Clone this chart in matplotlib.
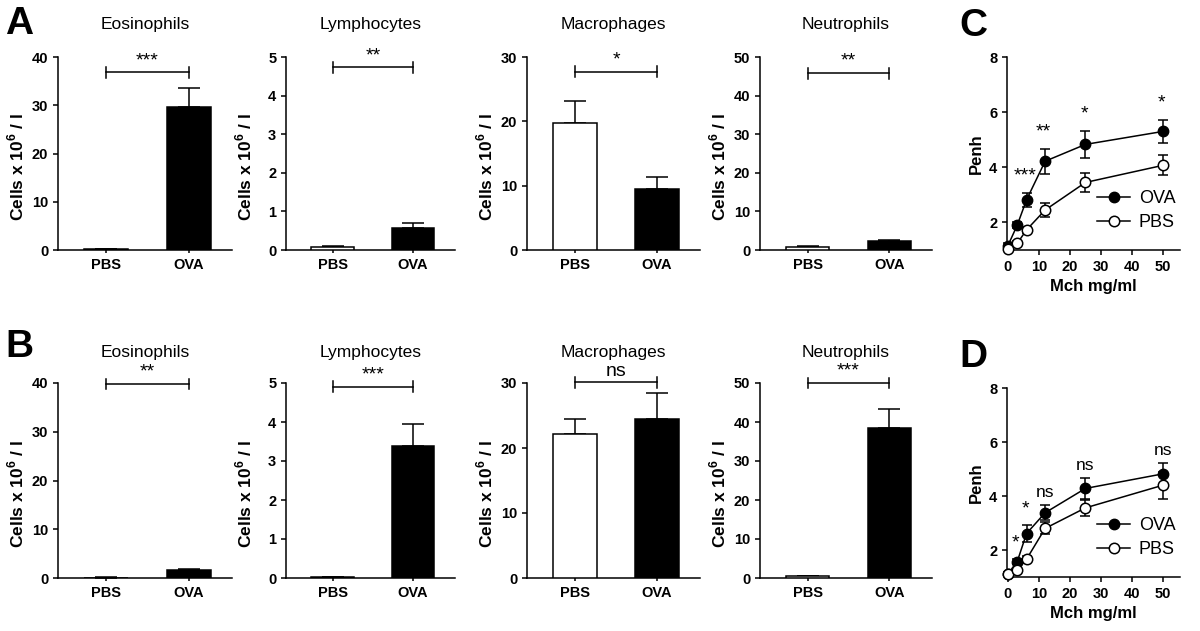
import matplotlib
matplotlib.use("Agg")
import matplotlib.pyplot as plt
from matplotlib.lines import Line2D
import numpy as np

plt.rcParams["font.family"] = ["Liberation Sans", "DejaVu Sans"]
plt.rcParams["mathtext.fontset"] = "custom"
plt.rcParams["mathtext.rm"] = "Liberation Sans"
plt.rcParams["mathtext.bf"] = "Liberation Sans:bold"

# BAL cell counts (cells x 10^6 / l)
cell_types = ["Eosinophils", "Lymphocytes", "Macrophages", "Neutrophils"]
groups = ["PBS", "OVA"]
y_max = [40, 5, 30, 50]
y_step = [10, 1, 10, 10]

a_pbs = [0.2, 0.07, 19.7, 0.85]
a_pbs_err = [0.05, 0.03, 3.4, 0.1]
a_ova = [29.7, 0.58, 9.5, 2.4]
a_ova_err = [3.9, 0.12, 1.8, 0.3]
a_sig = ["***", "**", "*", "**"]
a_bracket = [36.8, 4.73, 27.7, 45.8]

b_pbs = [0.1, 0.02, 22.1, 0.5]
b_pbs_err = [0.05, 0.01, 2.3, 0.1]
b_ova = [1.55, 3.38, 24.5, 38.4]
b_ova_err = [0.35, 0.57, 4.0, 4.9]
b_sig = ["**", "***", "ns", "***"]
b_bracket = [39.8, 4.9, 30.1, 50.0]

# airway hyperresponsiveness (Penh vs methacholine)
mch = [0, 3, 6, 12, 25, 50]
c_ova = [1.16, 1.9, 2.82, 4.22, 4.83, 5.3]
c_ova_err = [0.08, 0.1, 0.25, 0.45, 0.5, 0.43]
c_pbs = [1.05, 1.24, 1.73, 2.45, 3.45, 4.07]
c_pbs_err = [0.05, 0.08, 0.1, 0.25, 0.36, 0.36]
c_sig = ["", "", "***", "**", "*", "*"]

d_ova = [1.12, 1.57, 2.61, 3.38, 4.28, 4.82]
d_ova_err = [0.05, 0.08, 0.3, 0.28, 0.4, 0.4]
d_pbs = [1.1, 1.25, 1.66, 2.8, 3.56, 4.4]
d_pbs_err = [0.05, 0.06, 0.1, 0.22, 0.3, 0.5]
d_sig = ["", "*", "*", "ns", "ns", "ns"]

LW = 1.1


def style_axes(ax):
    for side in ("top", "right"):
        ax.spines[side].set_visible(False)
    for side in ("left", "bottom"):
        ax.spines[side].set_linewidth(LW)
    ax.tick_params(direction="out", width=LW, length=3.5, labelsize=10.5)
    for lab in ax.get_xticklabels() + ax.get_yticklabels():
        lab.set_fontweight("bold")


def bar_panel(ax, title, pbs, pbs_err, ova, ova_err, sig, bracket, ymax, step, pad, width_px):
    x = np.arange(len(groups))
    means = [pbs, ova]
    errs = [pbs_err, ova_err]
    ax.bar(x, means, width=0.53, color=["white", "black"], edgecolor="black",
           linewidth=LW, zorder=3)
    ax.errorbar(x, means, yerr=[[0, 0], errs], fmt="none", ecolor="black",
                elinewidth=LW, capsize=8, capthick=LW, zorder=2)
    ax.set_xlim(-0.58, 1.52)
    ax.set_ylim(0, ymax)
    ax.set_yticks(np.arange(0, ymax + step / 2, step))
    ax.set_xticks(x)
    ax.set_xticklabels(groups)
    style_axes(ax)
    ax.tick_params(axis="x", length=2.5)
    ax.set_ylabel(r"Cells x 10$^{\mathbf{6}}$ / l", fontsize=12.5, fontweight="bold")
    ax.yaxis.set_label_coords(-32 / width_px, 0.43)
    ax.set_title(title, fontsize=12.5, pad=pad)
    # significance bracket
    tick = 0.028 * ymax
    ax.plot([0, 1], [bracket, bracket], color="black", lw=LW, clip_on=False)
    for xi in (0, 1):
        ax.plot([xi, xi], [bracket - tick, bracket + tick], color="black",
                lw=LW, clip_on=False)
    if sig == "ns":
        ax.annotate(sig, (0.5, bracket), xytext=(0, 1.5), textcoords="offset points",
                    ha="center", va="bottom", fontsize=14, annotation_clip=False)
    else:
        ax.annotate(sig, (0.5, bracket), xytext=(0, 8.5), textcoords="offset points",
                    ha="center", va="center", fontsize=14, annotation_clip=False)


def line_panel(ax, ova, ova_err, pbs, pbs_err, sig):
    ax.errorbar(mch, ova, yerr=ova_err, color="black", lw=LW, marker="o",
                ms=7.5, mfc="black", mec="black", capsize=3.8, capthick=LW,
                elinewidth=LW, clip_on=False, zorder=3)
    ax.errorbar(mch, pbs, yerr=pbs_err, color="black", lw=LW, marker="o",
                ms=7.5, mfc="white", mec="black", mew=LW, capsize=3.8,
                capthick=LW, elinewidth=LW, clip_on=False, zorder=4)
    for xi, yi, ei, s in zip(mch, ova, ova_err, sig):
        if not s:
            continue
        if s == "ns":
            ax.annotate(s, (xi, yi + ei), xytext=(0, 9), textcoords="offset points",
                        ha="center", va="center", fontsize=12.5)
        else:
            ax.annotate(s, (xi, yi + ei), xytext=(-1, 12), textcoords="offset points",
                        ha="center", va="center", fontsize=14)
    ax.set_xlim(-0.3, 55.5)
    ax.set_ylim(1, 8)
    ax.set_xticks(range(0, 51, 10))
    ax.set_yticks([2, 4, 6, 8])
    style_axes(ax)
    ax.set_xlabel("Mch mg/ml", fontsize=12, fontweight="bold")
    ax.set_ylabel("Penh", fontsize=12, fontweight="bold")
    handles = [
        Line2D([], [], color="black", lw=LW, marker="o", ms=7.5, mfc="black", mec="black"),
        Line2D([], [], color="black", lw=LW, marker="o", ms=7.5, mfc="white", mec="black", mew=LW),
    ]
    ax.legend(handles, ["OVA", "PBS"], loc="lower left", bbox_to_anchor=(0.48, 0.06),
              frameon=False, fontsize=13, handlelength=1.8, handletextpad=0.5,
              labelspacing=0.4, borderaxespad=0)


fig = plt.figure(figsize=(12, 6.31), dpi=100)
W, H = 1200, 631


def px_axes(left, top, right, bottom):
    return fig.add_axes([left / W, 1 - bottom / H, (right - left) / W, (bottom - top) / H])


col_left = [58, 286, 527, 760]
col_right = [232, 455, 700, 932]

for i, name in enumerate(cell_types):
    width_px = col_right[i] - col_left[i]
    ax = px_axes(col_left[i], 57, col_right[i], 250)
    bar_panel(ax, name, a_pbs[i], a_pbs_err[i], a_ova[i], a_ova_err[i],
              a_sig[i], a_bracket[i], y_max[i], y_step[i], 20, width_px)
    ax = px_axes(col_left[i], 383, col_right[i], 578)
    bar_panel(ax, name, b_pbs[i], b_pbs_err[i], b_ova[i], b_ova_err[i],
              b_sig[i], b_bracket[i], y_max[i], y_step[i], 18.5, width_px)

ax_c = px_axes(1007, 57, 1180, 250)
line_panel(ax_c, c_ova, c_ova_err, c_pbs, c_pbs_err, c_sig)
ax_d = px_axes(1007, 388, 1180, 577)
line_panel(ax_d, d_ova, d_ova_err, d_pbs, d_pbs_err, d_sig)

for letter, (lx, ly) in zip("ABCD", [(5, 6), (5, 329), (959, 8), (959, 339)]):
    fig.text(lx / W, 1 - ly / H, letter, fontsize=28, fontweight="bold",
             ha="left", va="top")

fig.savefig("out.png", dpi=100)
